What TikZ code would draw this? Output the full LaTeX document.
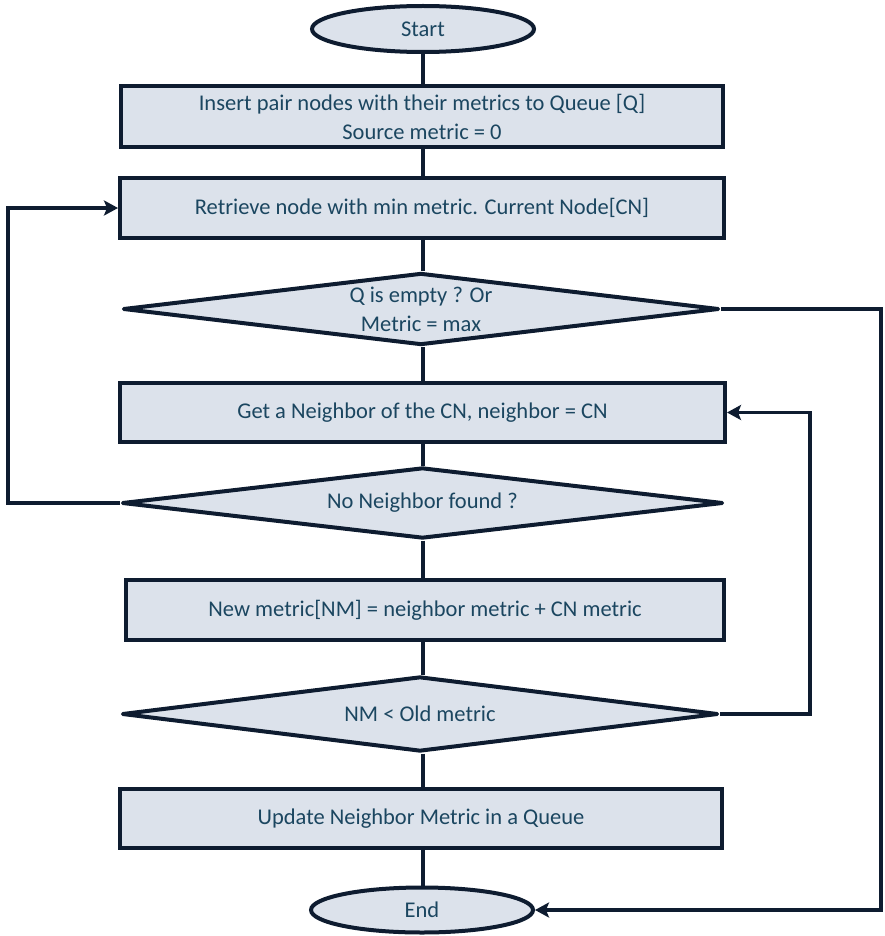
\documentclass[tikz,border=0pt]{standalone}
\usepackage{fontspec}
\setmainfont{Carlito}
\usetikzlibrary{shapes.geometric,arrows.meta}
\definecolor{boxfill}{HTML}{DCE2EB}
\definecolor{boxline}{HTML}{0E1C30}
\definecolor{txt}{HTML}{1B4660}
\tikzset{
  base/.style={draw=boxline, fill=boxfill, line width=4pt, text=txt, font=\fontsize{22.5}{29}\selectfont, align=center, inner sep=0pt},
  procbox/.style={base, rectangle, minimum height=60pt},
  termbox/.style={base, ellipse, minimum width=222pt, minimum height=46pt},
  decbox/.style={base, diamond, aspect=8.3, line join=round, minimum height=73pt},
  link/.style={draw=boxline, line width=3.5pt},
  arr/.style={link, -{Stealth[length=14pt,width=15pt,inset=3pt]}}
}
\begin{document}
\begin{tikzpicture}[x=1pt,y=1pt]
\useasboundingbox (0,0) rectangle (885,-936);
\node[termbox] (start) at (423,-29) {Start};
\node[procbox, minimum width=602pt, minimum height=61pt] (b1) at (422,-116.5) {Insert pair nodes with their metrics to Queue [Q]\\Source metric = 0};
\node[procbox, minimum width=604pt] (b2) at (422,-208) {Retrieve node with min metric. Current Node[CN]};
\node[decbox, minimum width=596pt, minimum height=72pt] (d1) at (421,-309) {Q is empty ? Or\\Metric = max};
\node[procbox, minimum width=605pt, minimum height=59pt] (b3) at (422.5,-412.5) {Get a Neighbor of the CN, neighbor = CN};
\node[decbox, minimum width=601pt, minimum height=71pt] (d2) at (422.5,-503) {No Neighbor found ?};
\node[procbox, minimum width=598pt] (b4) at (425,-610) {New metric[NM] = neighbor metric + CN metric};
\node[decbox, minimum width=596pt, minimum height=75pt] (d3) at (420,-714) {NM < Old metric};
\node[procbox, minimum width=602pt, minimum height=59pt] (b5) at (421,-818.5) {Update Neighbor Metric in a Queue};
\node[termbox, minimum height=45pt] (end) at (422,-910) {End};
\coordinate (L) at (8,0);
\coordinate (R1) at (810,0);
\coordinate (R2) at (881,0);
\draw[link] (start.south) -- (start.south |- b1.north);
\draw[link] (b1.south -| start.south) -- (start.south |- b2.north);
\draw[link] (b2.south -| start.south) -- (start.south |- d1.north);
\draw[link] (d1.south -| start.south) -- (start.south |- b3.north);
\draw[link] (b3.south -| start.south) -- (start.south |- d2.north);
\draw[link] (d2.south -| start.south) -- (start.south |- b4.north);
\draw[link] (b4.south -| start.south) -- (start.south |- d3.north);
\draw[link] (d3.south -| start.south) -- (start.south |- b5.north);
\draw[link] (b5.south -| start.south) -- (start.south |- end.north);
\draw[arr] (d2.west) -- (d2.west -| L) |- (b2.west);
\draw[arr] (d3.east) -- (d3.east -| R1) |- (b3.east);
\draw[arr] (d1.east) -- (d1.east -| R2) |- (end.east);
\end{tikzpicture}
\end{document}
